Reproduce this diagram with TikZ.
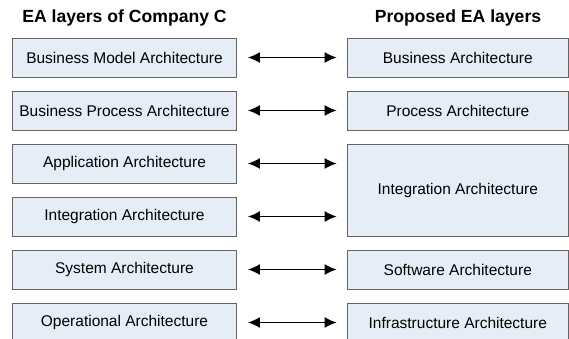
\documentclass[tikz,border=0pt]{standalone}
\usepackage{fontspec}
\setmainfont{Liberation Sans}
\usetikzlibrary{arrows.meta}
\usetikzlibrary{positioning}
\definecolor{layerfill}{RGB}{231,237,246}
\definecolor{layerdraw}{RGB}{100,100,100}
\tikzstyle{layer} = [draw=layerdraw, fill=layerfill, line width=0.9pt,
minimum height=39pt, inner sep=0pt, font=\fontsize{15.5}{18}\selectfont]
\tikzstyle{line} = [draw, {Latex[length=12pt,width=11pt]}-{Latex[length=12pt,width=11pt]},
line width=1.3pt, shorten <=11pt, shorten >=10.5pt]

\begin{document}
\begin{tikzpicture}[x=1pt, y=-1pt,
	old/.style={layer, minimum width=224pt},
	new/.style={layer, minimum width=220.5pt},
	head/.style={font=\bfseries\fontsize{17.6}{20}\selectfont}]
	\useasboundingbox (0,0) rectangle (569,339);
	% Headings
	\node [head] at (124.5,18) (headL) {EA layers of Company C};
	\node [head] at (458,18) (headR) {Proposed EA layers};
	% Company C layers
	\node [old] at (124.5,57.5) (bma) {Business Model Architecture};
	\node [old] at (124.5,110.5) (bpa) {Business Process Architecture};
	\node [old] at (124.5,163.5) (app) {Application Architecture};
	\node [old] at (124.5,216.5) (int) {Integration Architecture};
	\node [old] at (124.5,269.5) (sys) {System Architecture};
	\node [old] at (124.5,322.5) (ops) {Operational Architecture};
	% Proposed layers
	\node [new] at (457.8,57.5) (bus) {Business Architecture};
	\node [new] at (457.8,110.5) (pro) {Process Architecture};
	\node [new, minimum height=92pt] at (457.8,190) (intp) {Integration Architecture};
	\node [new] at (457.8,269.5) (sw) {Software Architecture};
	\node [new] at (457.8,322.5) (inf) {Infrastructure Architecture};
	%% Mappings
	\path [line] (bma) -- (bus);
	\path [line] (bpa) -- (pro);
	\path [line] (app.east) -- (app.east -| intp.west);
	\path [line] (int.east) -- (int.east -| intp.west);
	\path [line] (sys) -- (sw);
	\path [line] (ops) -- (inf);
\end{tikzpicture}
\end{document}
